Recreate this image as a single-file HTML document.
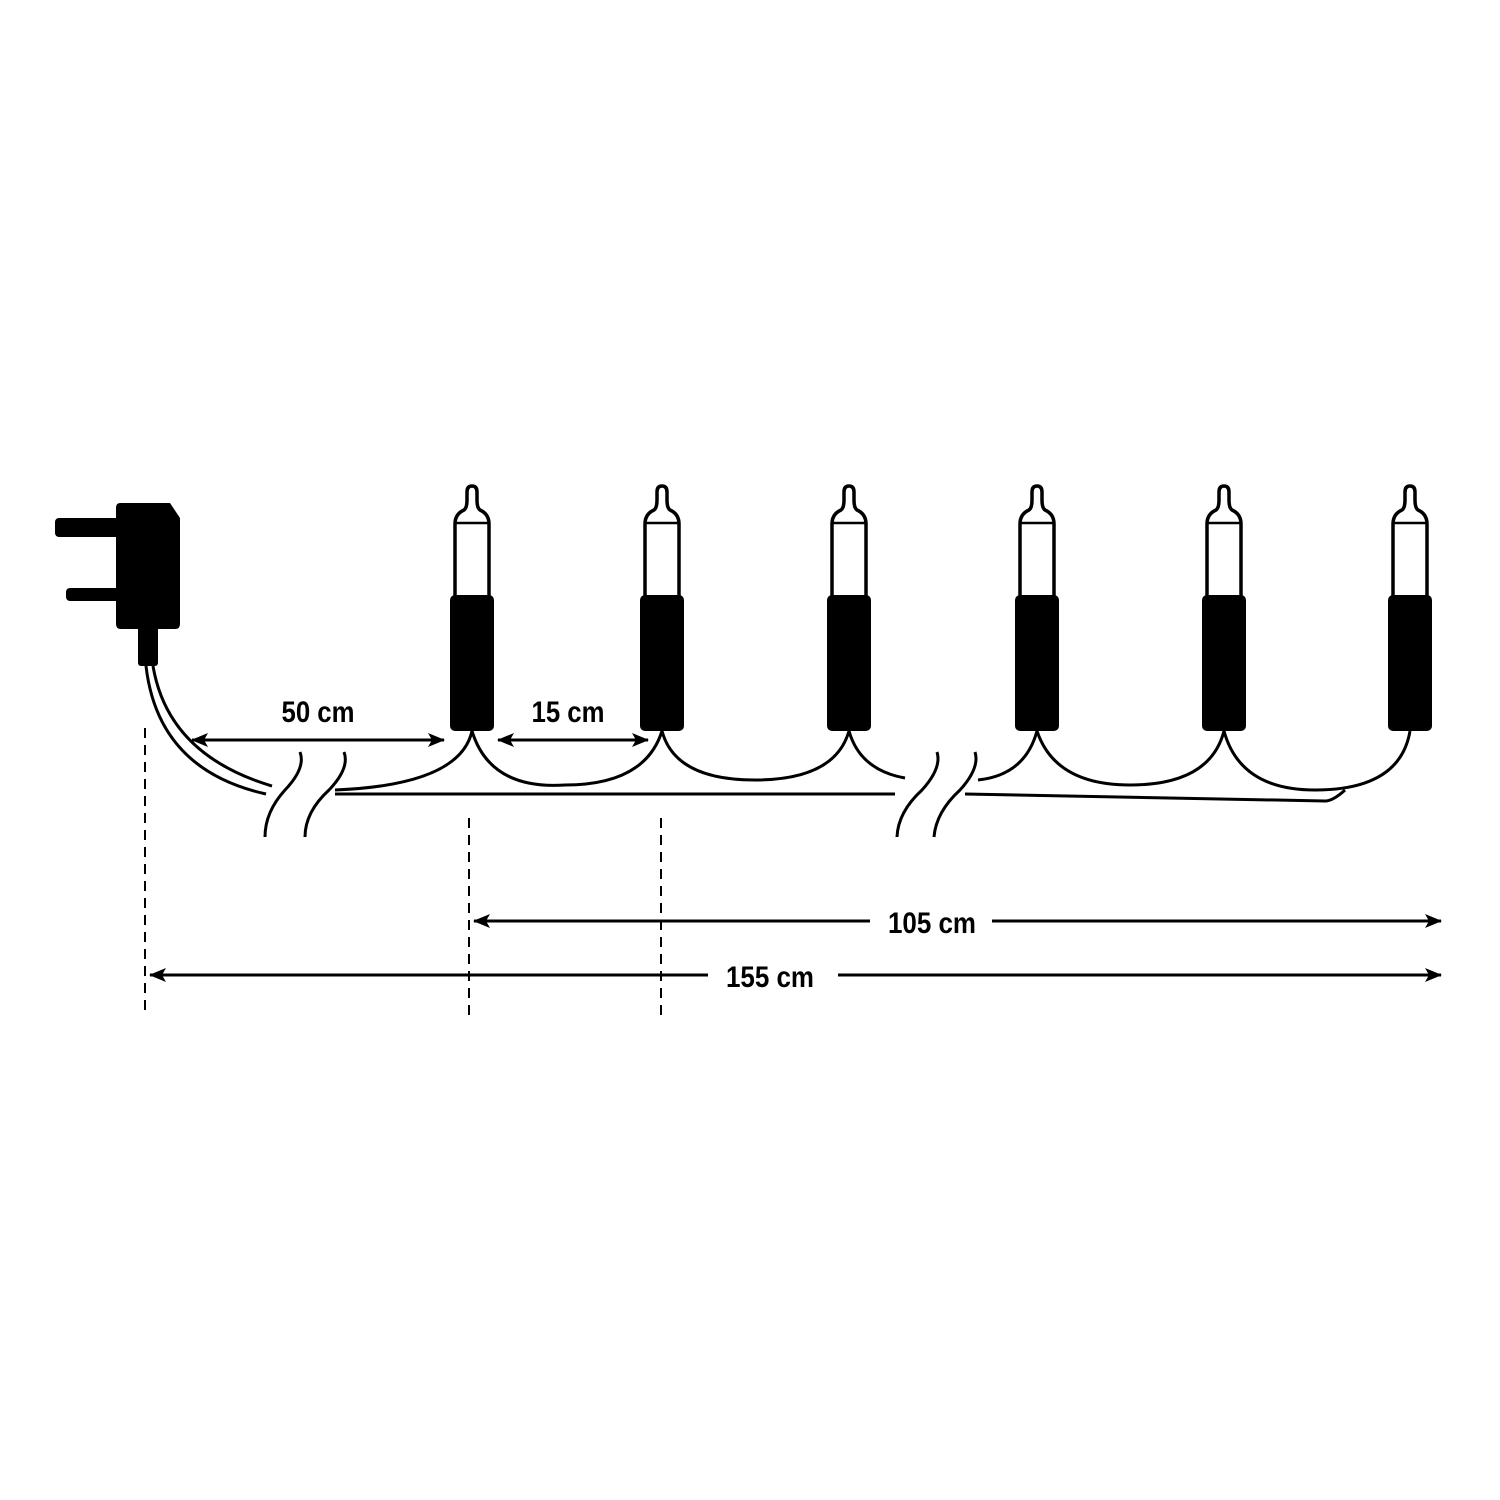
<!DOCTYPE html>
<html><head><style>html,body{margin:0;padding:0;background:#fff}svg{display:block}</style></head>
<body>
<svg width="1500" height="1500" viewBox="0 0 1500 1500" xmlns="http://www.w3.org/2000/svg">
<defs>
<g id="bulb">
<path d="M-17,597 L-17,524 Q-17,514 -8,510 Q-5,508 -5,500 L-5,492 Q-5,486 0,486 Q5,486 5,492 L5,500 Q5,508 8,510 Q17,514 17,524 L17,597" fill="#fff" stroke="#000" stroke-width="3.5"/>
<line x1="-17" y1="523" x2="17" y2="523" stroke="#000" stroke-width="2.5"/>
<rect x="-22" y="595" width="44" height="136" rx="5" fill="#000"/>
</g>
<marker id="ah2" markerWidth="18" markerHeight="14" refX="16" refY="7" orient="auto-start-reverse" markerUnits="userSpaceOnUse">
<path d="M0,0 L17,7 L0,14 L4,7 Z" fill="#000"/>
</marker>
</defs>

<rect x="55" y="518" width="66" height="19" rx="4" fill="#000"/>
<rect x="66" y="588" width="55" height="13" rx="4" fill="#000"/>
<path d="M120,503 L170,503 L180,518 L180,624 Q180,629 175,629 L121,629 Q116,629 116,624 L116,508 Q116,503 120,503 Z" fill="#000"/>
<rect x="138" y="626" width="20" height="40" rx="3" fill="#000"/>
<g fill="none" stroke="#000" stroke-width="3">
<path d="M153,666 Q168,755 272,786"/>
<path d="M146,666 Q158,770 266,794"/>
</g>

<use href="#bulb" x="472"/>
<use href="#bulb" x="662"/>
<use href="#bulb" x="849"/>
<use href="#bulb" x="1037"/>
<use href="#bulb" x="1224"/>
<use href="#bulb" x="1410"/>

<g fill="none" stroke="#000" stroke-width="3">
<path d="M472,731 Q460,785 335,790"/>
<line x1="335" y1="794" x2="895" y2="794"/>
<path d="M472,731 Q490,790 565,785 Q645,785 662,731"/>
<path d="M662,731 Q675,780 755,780 Q835,780 849,731"/>
<path d="M849,731 Q860,770 905,778"/>
<path d="M300,752 Q306,768 285,790 Q265,812 265,837"/>
<path d="M344,752 Q350,768 329,790 Q305,812 305,837"/>
<path d="M937,752 Q942,768 922,790 Q898,812 897,837"/>
<path d="M975,752 Q980,768 960,790 Q936,812 934,837"/>
<path d="M978,780 Q1025,775 1037,731"/>
<path d="M1037,731 Q1055,785 1130,785 Q1210,785 1224,731"/>
<path d="M1224,731 Q1240,790 1315,790 Q1400,790 1410,731"/>
<path d="M965,794 L1325,801 Q1333,801 1345,790"/>
</g>

<g stroke="#000" stroke-width="2" stroke-dasharray="10,7">
<line x1="145" y1="728" x2="145" y2="1015"/>
<line x1="469" y1="818" x2="469" y2="1015"/>
<line x1="661" y1="818" x2="661" y2="1015"/>
</g>

<g stroke="#000" stroke-width="3" fill="none">
<line x1="192" y1="740" x2="444" y2="740" marker-start="url(#ah2)" marker-end="url(#ah2)"/>
<line x1="498" y1="740" x2="648" y2="740" marker-start="url(#ah2)" marker-end="url(#ah2)"/>
<line x1="474" y1="921" x2="870" y2="921" marker-start="url(#ah2)"/>
<line x1="992" y1="921" x2="1441" y2="921" marker-end="url(#ah2)"/>
<line x1="150" y1="975" x2="708" y2="975" marker-start="url(#ah2)"/>
<line x1="838" y1="975" x2="1441" y2="975" marker-end="url(#ah2)"/>
</g>

<g font-family="Liberation Sans, sans-serif" font-weight="bold" font-size="30" fill="#000" text-anchor="middle">
<text x="318" y="722" textLength="73" lengthAdjust="spacingAndGlyphs">50 cm</text>
<text x="568" y="722" textLength="73" lengthAdjust="spacingAndGlyphs">15 cm</text>
<text x="932" y="933" textLength="88" lengthAdjust="spacingAndGlyphs">105 cm</text>
<text x="770" y="987" textLength="88" lengthAdjust="spacingAndGlyphs">155 cm</text>
</g>
</svg>
</body></html>
